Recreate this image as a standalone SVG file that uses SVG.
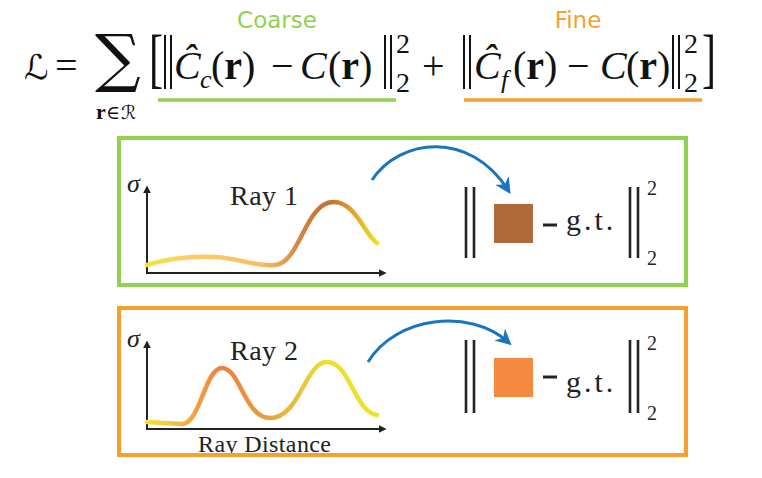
<svg xmlns="http://www.w3.org/2000/svg" width="762" height="478" viewBox="0 0 762 478">
<style>
.m{font-family:"Liberation Serif","DejaVu Serif",serif;fill:#111}
.it{font-style:italic}
.b{font-weight:bold}
.lab{font-family:"DejaVu Sans","Liberation Sans",sans-serif;font-size:23px}
.cm{font-family:"Liberation Serif","DejaVu Serif",serif;fill:#222}
.ax{stroke:#222;stroke-width:2;fill:none}
.bar{stroke:#222;stroke-width:2.6}
.nb{stroke:#111;stroke-width:2}
.blue{stroke:#1b75bc;stroke-width:3;fill:none}
.curve{fill:none;stroke-width:4.5;stroke-linecap:round}
</style>
<defs>
<marker id="ah" viewBox="0 0 10 10" refX="8" refY="5" markerWidth="8" markerHeight="8" markerUnits="userSpaceOnUse" orient="auto">
<path d="M0,0 L10,5 L0,10 z" fill="#222"/>
</marker>
<marker id="bh" viewBox="0 0 10 10" refX="7" refY="5" markerWidth="16" markerHeight="16" markerUnits="userSpaceOnUse" orient="auto">
<path d="M0,0 L10,5 L0,10 L3,5 z" fill="#1b75bc"/>
</marker>
<linearGradient id="g1" gradientUnits="userSpaceOnUse" x1="147" y1="0" x2="377" y2="0">
<stop offset="0" stop-color="#f5e43a"/>
<stop offset="0.15" stop-color="#fcd062"/>
<stop offset="0.5" stop-color="#f8be62"/>
<stop offset="0.68" stop-color="#d08040"/>
<stop offset="0.8" stop-color="#c27038"/>
<stop offset="0.9" stop-color="#e0a830"/>
<stop offset="1" stop-color="#f0e020"/>
</linearGradient>
<linearGradient id="g2" gradientUnits="userSpaceOnUse" x1="147" y1="0" x2="377" y2="0">
<stop offset="0" stop-color="#f5e040"/>
<stop offset="0.16" stop-color="#f5b040"/>
<stop offset="0.33" stop-color="#ee7e40"/>
<stop offset="0.52" stop-color="#e8a040"/>
<stop offset="0.65" stop-color="#e6c040"/>
<stop offset="0.78" stop-color="#ece030"/>
<stop offset="1" stop-color="#ece030"/>
</linearGradient>
</defs>
<rect width="762" height="478" fill="#fff"/>

<g id="formula">
<text x="24" y="79" font-size="34" font-family="DejaVu Sans, sans-serif" fill="#111">ℒ</text>
<text class="m" x="55" y="79" font-size="40">=</text>
<text x="95" y="80" font-size="64" font-family="DejaVu Serif, serif" fill="#111">∑</text>
<text class="m b" x="96" y="119" font-size="22">r</text>
<text x="106" y="119" font-size="19" font-family="DejaVu Serif, serif" fill="#111">∈</text>
<text x="121" y="119" font-size="19" font-family="DejaVu Sans, sans-serif" font-style="italic" fill="#111">ℛ</text>
<text class="m" font-size="42" transform="translate(149,80) scale(1,1.55)">[</text>
<line class="nb" x1="165" y1="35" x2="165" y2="89"/>
<line class="nb" x1="171" y1="35" x2="171" y2="89"/>
<text class="m it" x="174" y="79" font-size="40">Ĉ</text>
<text class="m it" x="200" y="88" font-size="26">c</text>
<text class="m" x="211" y="79" font-size="40">(<tspan class="b">r</tspan>)</text>
<text class="m" x="271" y="79" font-size="40">−</text>
<text class="m it" x="300" y="79" font-size="40">C</text>
<text class="m" x="328" y="79" font-size="40">(<tspan class="b">r</tspan>)</text>
<line class="nb" x1="385" y1="35" x2="385" y2="89"/>
<line class="nb" x1="391" y1="35" x2="391" y2="89"/>
<text class="m" x="396" y="53" font-size="28">2</text>
<text class="m" x="396" y="92" font-size="28">2</text>
<text class="m" x="422" y="79" font-size="40">+</text>
<line class="nb" x1="464" y1="35" x2="464" y2="89"/>
<line class="nb" x1="470" y1="35" x2="470" y2="89"/>
<text class="m it" x="474" y="79" font-size="40">Ĉ</text>
<text class="m it" x="501" y="88" font-size="26">f</text>
<text class="m" x="513" y="79" font-size="40">(<tspan class="b">r</tspan>)</text>
<text class="m" x="567" y="79" font-size="40">−</text>
<text class="m it" x="600" y="79" font-size="40">C</text>
<text class="m" x="626" y="79" font-size="40">(<tspan class="b">r</tspan>)</text>
<line class="nb" x1="673" y1="35" x2="673" y2="89"/>
<line class="nb" x1="679" y1="35" x2="679" y2="89"/>
<text class="m" x="684" y="53" font-size="28">2</text>
<text class="m" x="684" y="92" font-size="28">2</text>
<text class="m" font-size="42" transform="translate(702,80) scale(1,1.55)">]</text>
</g>

<g id="coarse-label">
<text class="lab" x="277" y="28" text-anchor="middle" fill="#92d050">Coarse</text>
<line x1="158" y1="100" x2="396" y2="100" stroke="#92d050" stroke-width="3.5"/>
</g>
<g id="fine-label">
<text class="lab" x="578" y="28" text-anchor="middle" fill="#f7a030">Fine</text>
<line x1="464" y1="100" x2="702" y2="100" stroke="#f7a030" stroke-width="3.5"/>
</g>

<g id="box-coarse">
<rect x="119" y="138" width="567" height="147" fill="none" stroke="#92d050" stroke-width="4"/>
<line class="ax" x1="147" y1="273" x2="147" y2="187" marker-end="url(#ah)"/>
<line class="ax" x1="146" y1="273" x2="385" y2="273" marker-end="url(#ah)"/>
<text class="cm it" x="127" y="192" font-size="26">σ</text>
<text class="cm" x="230" y="205" font-size="28" letter-spacing="0.5">Ray 1</text>
<path class="curve" stroke="url(#g1)" d="M147,265 C170,258 190,256 215,257 C240,258 255,267 275,265 C300,263 305,203 333,202 C355,201 365,235 377,243"/>
<line class="bar" x1="466" y1="187" x2="466" y2="258"/>
<line class="bar" x1="474" y1="187" x2="474" y2="258"/>
<rect x="494" y="204" width="39" height="39" fill="#b0693a"/>
<line x1="543" y1="225" x2="557" y2="225" stroke="#222" stroke-width="3"/>
<text class="cm" x="566" y="230" font-size="30" letter-spacing="3">g.t.</text>
<line class="bar" x1="630" y1="187" x2="630" y2="258"/>
<line class="bar" x1="638" y1="187" x2="638" y2="258"/>
<text class="cm" x="647" y="195" font-size="20">2</text>
<text class="cm" x="647" y="265" font-size="20">2</text>
</g>

<g id="box-fine">
<text class="cm" x="198" y="452" font-size="24" letter-spacing="0.4">Ray Distance</text>
<rect x="119" y="308" width="567" height="147" fill="none" stroke="#f7a030" stroke-width="4"/>
<line class="ax" x1="147" y1="429" x2="147" y2="342" marker-end="url(#ah)"/>
<line class="ax" x1="146" y1="429" x2="385" y2="429" marker-end="url(#ah)"/>
<text class="cm it" x="127" y="347" font-size="26">σ</text>
<text class="cm" x="230" y="360" font-size="28" letter-spacing="0.5">Ray 2</text>
<path class="curve" stroke="url(#g2)" d="M147,422 L182,424 C200,424 205,368 222,368 C240,368 245,418 270,418 C300,418 305,362 327,362 C350,362 355,413 377,415"/>
<line class="bar" x1="466" y1="340" x2="466" y2="413"/>
<line class="bar" x1="474" y1="340" x2="474" y2="413"/>
<rect x="494" y="358" width="39" height="39" fill="#f58a40"/>
<line x1="543" y1="377" x2="557" y2="377" stroke="#222" stroke-width="3"/>
<text class="cm" x="566" y="392" font-size="30" letter-spacing="3">g.t.</text>
<line class="bar" x1="630" y1="340" x2="630" y2="413"/>
<line class="bar" x1="638" y1="340" x2="638" y2="413"/>
<text class="cm" x="647" y="350" font-size="20">2</text>
<text class="cm" x="647" y="420" font-size="20">2</text>
</g>

<g id="connectors">
<path class="blue" d="M372,180 C400,138 470,130 508,190" marker-end="url(#bh)"/>
<path class="blue" d="M368,362 C396,316 470,308 508,342" marker-end="url(#bh)"/>
</g>
</svg>
